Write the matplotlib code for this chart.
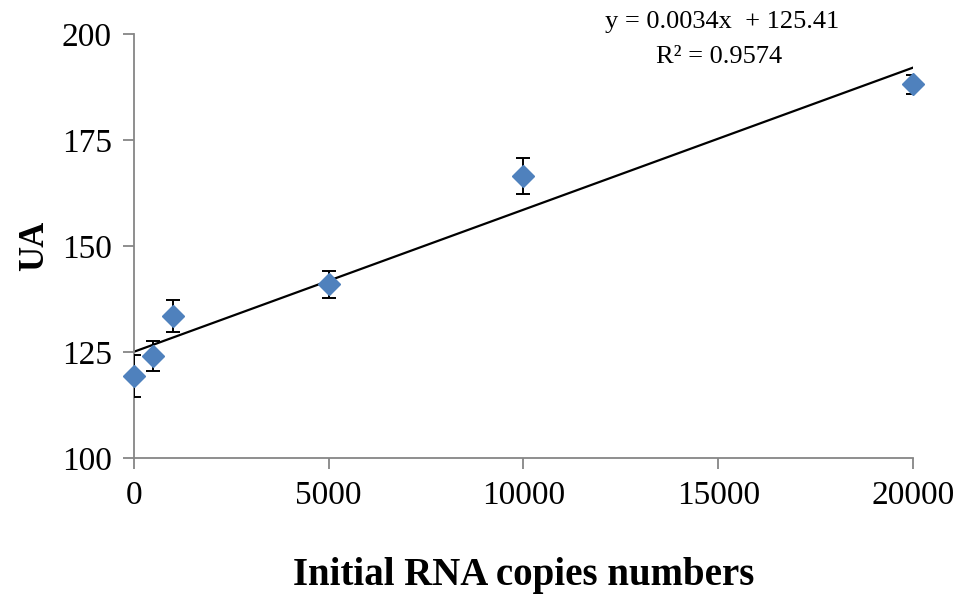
import numpy as np
import matplotlib
matplotlib.use("Agg")
import matplotlib.pyplot as plt

# data
copies = [0, 500, 1000, 5000, 10000, 20000]
ua = [119.4, 124.1, 133.5, 141.0, 166.5, 188.1]
ua_err = [5.0, 3.5, 3.8, 3.2, 4.2, 2.3]
x_ticks = [0, 5000, 10000, 15000, 20000]
y_ticks = [100, 125, 150, 175, 200]
equation = "y = 0.0034x  + 125.41"
r2_text = "R² = 0.9574"

plt.rcParams['font.family'] = ['Liberation Serif', 'DejaVu Serif']

fig = plt.figure(figsize=(9.61, 5.95), dpi=100)
ax = fig.add_axes([0.1394, 0.2303, 0.8106, 0.7126])

slope, intercept = np.polyfit(copies, ua, 1)
xl = np.array([0, 20000])
ax.plot(xl, slope * xl + intercept, color='black', lw=1.6, zorder=2)

ax.errorbar(copies, ua, yerr=ua_err, fmt='none', ecolor='black',
            elinewidth=1.4, capsize=5, capthick=1.4, zorder=3)
ax.plot(copies, ua, linestyle='none', marker='D', markersize=11,
        color='#4F81BD', markeredgecolor='#4F81BD', zorder=4, clip_on=False)

ax.set_xlim(0, 20000)
ax.set_ylim(100, 200)
ax.set_xticks(x_ticks)
ax.set_yticks(y_ticks)

for s in ['top', 'right']:
    ax.spines[s].set_visible(False)
for s in ['left', 'bottom']:
    ax.spines[s].set_color('#868686')
    ax.spines[s].set_linewidth(1.3)

ax.tick_params(axis='both', direction='out', length=8, width=1.3,
               color='#868686', labelsize=24, pad=8)

ax.set_xlabel('Initial RNA copies numbers', fontsize=28, fontweight='bold',
              labelpad=33)
ax.set_ylabel('UA', fontsize=25, fontweight='bold', labelpad=8)

fig.text(0.7513, 0.963, equation, fontsize=19, ha='center', va='center')
fig.text(0.7482, 0.904, r2_text, fontsize=19, ha='center', va='center')

fig.savefig('out.png', dpi=100)
